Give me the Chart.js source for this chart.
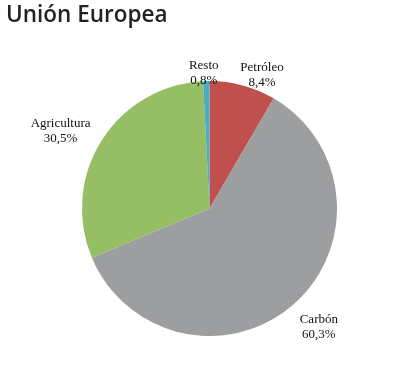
<!DOCTYPE html>
<html>
<head>
<meta charset="utf-8">
<script src="https://cdn.jsdelivr.net/npm/chart.js@4"></script>
<style>
    body { margin: 0; background: #fff; }
    #wrap { position: relative; width: 412px; height: 374px; }
    #title {
        position: absolute; left: 6px; top: -1px;
        font: 600 22.5px "Open Sans", sans-serif; color: #222;
        line-height: 30px; margin: 0;
    }
</style>
</head>
<body>
<div id="wrap">
    <h1 id="title">Unión Europea</h1>
    <canvas id="pieChart"></canvas>
</div>
<script>
// Sectores y porcentajes (en el orden del gráfico, desde arriba en sentido horario)
const sectors = ['Petróleo', 'Carbón', 'Agricultura', 'Resto'];
const shares = [8.4, 60.3, 30.5, 0.8];
const shareLabels = ['8,4%', '60,3%', '30,5%', '0,8%'];

const sliceColors = ['#C0504D', '#9C9E9F', '#95BE65', '#4BACC6'];

// Etiquetas de datos fuera del sector
// gaps = distancia desde el borde, shifts = giro de la etiqueta en grados
const outsideLabels = {
    id: 'outsideLabels',
    afterDatasetsDraw(chart, args, opts) {
        const ctx = chart.ctx;
        const meta = chart.getDatasetMeta(0);
        ctx.save();
        ctx.font = '13px "Liberation Serif", "Times New Roman", serif';
        ctx.fillStyle = '#111';
        ctx.textAlign = 'center';
        ctx.textBaseline = 'middle';
        const lineH = 15;
        meta.data.forEach((arc, i) => {
            const mid = (arc.startAngle + arc.endAngle) / 2 + opts.shifts[i] * Math.PI / 180;
            const dx = Math.cos(mid), dy = Math.sin(mid);
            const lines = [sectors[i], shareLabels[i]];
            const w = Math.max(...lines.map(t => ctx.measureText(t).width));
            const h = lines.length * lineH;
            const r = arc.outerRadius + opts.gaps[i];
            const cx = arc.x + dx * r + dx * w / 2;
            const cy = arc.y + dy * r + dy * h / 2;
            lines.forEach((t, k) => {
                ctx.fillText(t, cx, cy - h / 2 + lineH / 2 + k * lineH);
            });
        });
        ctx.restore();
    }
};

function showPieChart() {
    const ctx = document.getElementById('pieChart').getContext('2d');
    new Chart(ctx, {
        type: 'pie',
        data: {
            labels: sectors,
            datasets: [{
                data: shares,
                backgroundColor: sliceColors,
                borderWidth: 0,
            }],
        },
        options: {
            responsive: true,
            maintainAspectRatio: false,
            animation: false,
            layout: {
                padding: { top: 81, bottom: 38, left: 82, right: 75 },
            },
            plugins: {
                legend: { display: false },
                tooltip: { enabled: false },
                outsideLabels: {
                    gaps: [0, 17, 14, -7],
                    shifts: [5.5, -0.7, -2.5, -1],
                },
            },
        },
        plugins: [outsideLabels],
    });
}

document.addEventListener('DOMContentLoaded', showPieChart);
</script>
</body>
</html>
